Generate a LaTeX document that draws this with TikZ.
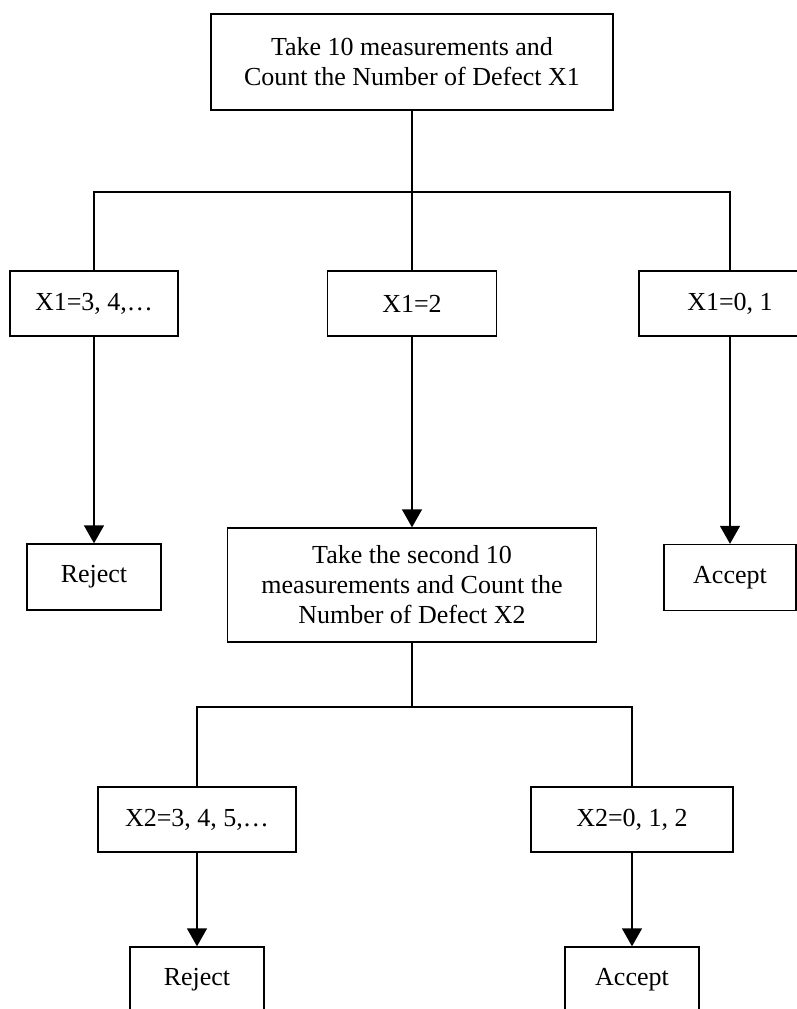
\documentclass[tikz,border=0pt]{standalone}
\usepackage{fontspec}
\setmainfont{Liberation Serif}
\usetikzlibrary{arrows.meta}

\begin{document}
\begin{tikzpicture}[
      x = 0.5pt, y = -0.5pt,
      >={Triangle[length=9pt, width=10pt]},
      box/.style = {
        draw = black, line width = 0.7pt,
        align = center, inner sep = 0pt,
        font = {\fontsize{13}{15}\selectfont}
      },
      case/.style = { box, minimum height = 32.5pt },
      result/.style = { box, minimum width = 67pt, minimum height = 33pt },
      link/.style = { black, line width = 0.7pt },
    ]

    \useasboundingbox (0,0) rectangle (797,1009);
    \clip (0,0) rectangle (797,1009);

    %% first sample
    \node[box, minimum width = 201pt, minimum height = 48pt] (sample1) at (412,62)
      {Take 10 measurements and\\ Count the Number of Defect X1};

    \node[case, minimum width = 84pt] (high1) at (94,303.5) {X1=3, 4,\dots};
    \node[case, minimum width = 84.5pt] (mid1) at (412,303.5) {X1=2};
    \node[case, minimum width = 91pt] (low1) at (730,303.5) {X1=0, 1};

    \coordinate (bus1) at (412,192);
    \draw[link] (sample1) to (bus1);
    \draw[link] (high1.north) |- (bus1) -| (low1.north);
    \draw[link] (bus1) to (mid1.north);

    \node[result] (reject1) at (94,577) {Reject};
    \node[result, minimum width = 66pt] (accept1) at (730,577.5) {Accept};

    %% second sample
    \node[box, minimum width = 184.5pt, minimum height = 57pt] (sample2) at (412,585)
      {Take the second 10\\ measurements and Count the\\ Number of Defect X2};

    \draw[link, ->] (high1) to (reject1);
    \draw[link, ->] (mid1) to (sample2);
    \draw[link, ->] (low1) to (accept1);

    \node[case, minimum width = 99pt] (high2) at (197,819.5) {X2=3, 4, 5,\dots};
    \node[case, minimum width = 101pt] (low2) at (632,819.5) {X2=0, 1, 2};

    \coordinate (bus2) at (412,707);
    \draw[link] (sample2) to (bus2);
    \draw[link] (high2.north) |- (bus2) -| (low2.north);

    \node[result] (reject2) at (197,980) {Reject};
    \node[result] (accept2) at (632,980) {Accept};

    \draw[link, ->] (high2) to (reject2);
    \draw[link, ->] (low2) to (accept2);
  \end{tikzpicture}
\end{document}
